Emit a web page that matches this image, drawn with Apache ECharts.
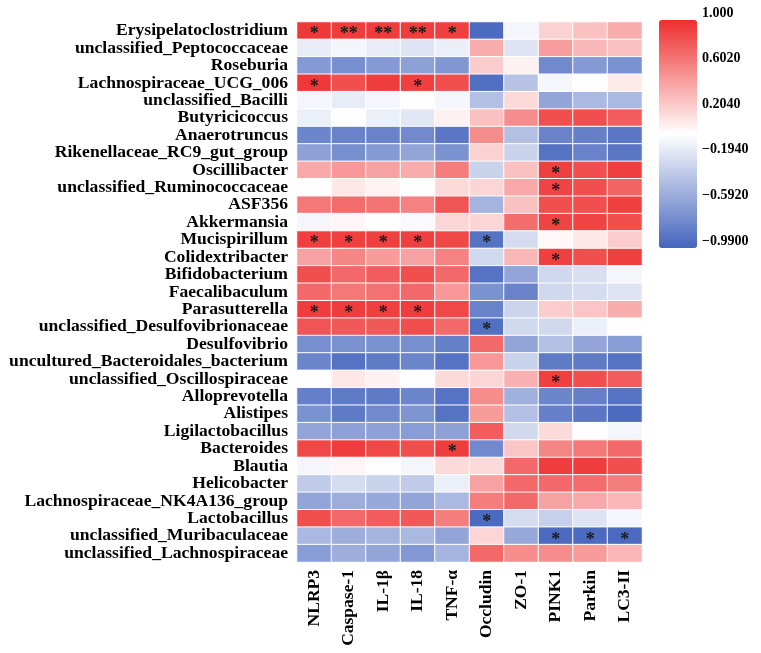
<!DOCTYPE html>
<html>
<head>
<meta charset="utf-8">
<script src="https://cdn.jsdelivr.net/npm/echarts@6/dist/echarts.min.js"></script>
<style>html,body{margin:0;padding:0;background:#fff;}#c{width:761px;height:653px;}</style>
</head>
<body>
<div id="c"></div>
<script>
const rows = [
  "Erysipelatoclostridium","unclassified_Peptococcaceae","Roseburia","Lachnospiraceae_UCG_006",
  "unclassified_Bacilli","Butyricicoccus","Anaerotruncus","Rikenellaceae_RC9_gut_group",
  "Oscillibacter","unclassified_Ruminococcaceae","ASF356","Akkermansia","Mucispirillum",
  "Colidextribacter","Bifidobacterium","Faecalibaculum","Parasutterella",
  "unclassified_Desulfovibrionaceae","Desulfovibrio","uncultured_Bacteroidales_bacterium",
  "unclassified_Oscillospiraceae","Alloprevotella","Alistipes","Ligilactobacillus","Bacteroides",
  "Blautia","Helicobacter","Lachnospiraceae_NK4A136_group","Lactobacillus",
  "unclassified_Muribaculaceae","unclassified_Lachnospiraceae"
];
const cols = ["NLRP3","Caspase-1","IL-1β","IL-18","TNF-α","Occludin","ZO-1","PINK1","Parkin","LC3-II"];

// correlation values, one array per row (columns in order of cols)
const corr = [
  [ 0.95, 0.93, 0.94, 0.93, 0.92, -0.95, -0.05, 0.22, 0.30, 0.40],
  [-0.12,-0.05,-0.12,-0.17,-0.10,  0.40, -0.17, 0.47, 0.35, 0.30],
  [-0.65,-0.72,-0.65,-0.60,-0.67,  0.25,  0.07,-0.75,-0.65,-0.70],
  [ 0.95, 0.85, 0.93, 0.92, 0.85, -0.92, -0.38,-0.05, 0.00, 0.10],
  [-0.05,-0.12,-0.05, 0.00,-0.05, -0.40,  0.18,-0.58,-0.45,-0.45],
  [-0.10, 0.00,-0.10,-0.15, 0.07,  0.30,  0.55, 0.85, 0.85, 0.78],
  [-0.78,-0.80,-0.80,-0.75,-0.88,  0.55, -0.40,-0.80,-0.82,-0.88],
  [-0.60,-0.72,-0.65,-0.58,-0.70,  0.22, -0.28,-0.90,-0.80,-0.88],
  [ 0.42, 0.50, 0.45, 0.40, 0.62, -0.28,  0.30, 0.92, 0.85, 0.92],
  [ 0.00, 0.12, 0.06, 0.00, 0.18,  0.20,  0.42, 0.90, 0.85, 0.75],
  [ 0.65, 0.70, 0.67, 0.60, 0.82, -0.48,  0.30, 0.85, 0.85, 0.92],
  [-0.05, 0.05, 0.00,-0.03, 0.20,  0.20,  0.70, 0.90, 0.90, 0.85],
  [ 0.92, 0.92, 0.92, 0.92, 0.88, -0.90, -0.22, 0.04, 0.12, 0.25],
  [ 0.45, 0.58, 0.48, 0.45, 0.60, -0.24,  0.35, 0.92, 0.85, 0.92],
  [ 0.85, 0.72, 0.78, 0.85, 0.72, -0.90, -0.58,-0.25,-0.20,-0.05],
  [ 0.72, 0.65, 0.68, 0.72, 0.50, -0.70, -0.80,-0.25,-0.22,-0.17],
  [ 0.93, 0.93, 0.92, 0.93, 0.88, -0.80, -0.27, 0.25, 0.28, 0.40],
  [ 0.82, 0.80, 0.80, 0.85, 0.72, -0.92, -0.24,-0.24,-0.10, 0.00],
  [-0.72,-0.70,-0.70,-0.72,-0.82,  0.72, -0.58,-0.40,-0.58,-0.63],
  [-0.78,-0.90,-0.85,-0.78,-0.90,  0.50, -0.28,-0.85,-0.85,-0.90],
  [ 0.00, 0.12, 0.07, 0.00, 0.18,  0.20,  0.38, 0.92, 0.85, 0.78],
  [-0.82,-0.85,-0.85,-0.78,-0.90,  0.55, -0.50,-0.78,-0.82,-0.90],
  [-0.70,-0.85,-0.75,-0.68,-0.90,  0.48, -0.40,-0.82,-0.88,-0.95],
  [-0.58,-0.60,-0.60,-0.63,-0.60,  0.78, -0.24, 0.18, 0.00,-0.05],
  [ 0.88, 0.93, 0.88, 0.85, 0.93, -0.75,  0.28, 0.58, 0.65, 0.72],
  [-0.05, 0.05, 0.00,-0.05, 0.18,  0.18,  0.72, 0.93, 0.93, 0.85],
  [-0.33,-0.22,-0.28,-0.33,-0.10,  0.45,  0.72, 0.72, 0.70, 0.62],
  [-0.58,-0.52,-0.55,-0.58,-0.45,  0.62,  0.72, 0.45, 0.42, 0.35],
  [ 0.85, 0.72, 0.78, 0.80, 0.62, -0.95, -0.22,-0.30,-0.17,-0.05],
  [-0.45,-0.52,-0.47,-0.45,-0.58,  0.20, -0.55,-0.95,-0.95,-0.95],
  [-0.63,-0.52,-0.58,-0.66,-0.47,  0.72,  0.55, 0.55, 0.48, 0.35]
];

// significance marks, same layout as corr
const sig = [
  ["*","**","**","**","*","","","","",""],
  ["","","","","","","","","",""],
  ["","","","","","","","","",""],
  ["*","","","*","","","","","",""],
  ["","","","","","","","","",""],
  ["","","","","","","","","",""],
  ["","","","","","","","","",""],
  ["","","","","","","","","",""],
  ["","","","","","","","*","",""],
  ["","","","","","","","*","",""],
  ["","","","","","","","","",""],
  ["","","","","","","","*","",""],
  ["*","*","*","*","","*","","","",""],
  ["","","","","","","","*","",""],
  ["","","","","","","","","",""],
  ["","","","","","","","","",""],
  ["*","*","*","*","","","","","",""],
  ["","","","","","*","","","",""],
  ["","","","","","","","","",""],
  ["","","","","","","","","",""],
  ["","","","","","","","*","",""],
  ["","","","","","","","","",""],
  ["","","","","","","","","",""],
  ["","","","","","","","","",""],
  ["","","","","*","","","","",""],
  ["","","","","","","","","",""],
  ["","","","","","","","","",""],
  ["","","","","","","","","",""],
  ["","","","","","*","","","",""],
  ["","","","","","","","*","*","*"],
  ["","","","","","","","","",""]
];

const cbTicks = [1.0, 0.602, 0.204, -0.194, -0.592, -0.99];
const cbTickLabels = ["1.000", "0.6020", "0.2040", "\u22120.1940", "\u22120.5920", "\u22120.9900"];

const data = [];
corr.forEach((r, i) => r.forEach((v, j) => data.push([j, i, v])));

const serif = "'Liberation Serif', 'Times New Roman', serif";
const chart = echarts.init(document.getElementById('c'), null, {renderer: 'canvas'});
chart.setOption({
  animation: false,
  backgroundColor: '#fff',
  grid: [
    {left: 297, top: 22, width: 345, height: 540, containLabel: false},
    {left: 659, top: 13, width: 38, height: 228, containLabel: false}
  ],
  xAxis: [
    {type: 'category', data: cols, gridIndex: 0, position: 'bottom',
     axisLine: {show: false}, axisTick: {show: false}, splitArea: {show: false},
     axisLabel: {rotate: 90, margin: 8, fontFamily: serif, fontWeight: 'bold', fontSize: 17.5, color: '#000', interval: 0}},
    {type: 'value', gridIndex: 1, show: false, min: 0, max: 1}
  ],
  yAxis: [
    {type: 'category', data: rows, inverse: true, gridIndex: 0,
     axisLine: {show: false}, axisTick: {show: false}, splitArea: {show: false},
     axisLabel: {margin: 9, fontFamily: serif, fontWeight: 'bold', fontSize: 17.6, color: '#000', interval: 0}},
    {type: 'value', gridIndex: 1, min: -0.99, max: 1.0, position: 'right',
     axisLine: {show: false}, axisTick: {show: false}, splitLine: {show: false},
     axisLabel: {show: true, margin: 5, customValues: cbTicks, fontFamily: serif, fontWeight: 'bold', fontSize: 14, color: '#000',
       formatter: function (v) {
         let best = 0;
         cbTicks.forEach((t, k) => { if (Math.abs(t - v) < Math.abs(cbTicks[best] - v)) best = k; });
         return cbTickLabels[best];
       }}}
  ],
  visualMap: {
    type: 'continuous', min: -0.99, max: 1.0, calculable: false, show: true,
    left: 659, top: 20, itemWidth: 38, itemHeight: 228, padding: 0,
    text: null, showLabel: false, seriesIndex: 0,
    inRange: {color: ['#4565BD', '#ffffff', '#EE2E2E']}
  },
  series: [{
    type: 'heatmap', xAxisIndex: 0, yAxisIndex: 0, data: data,
    itemStyle: {borderColor: '#fff', borderWidth: 1},
    emphasis: {disabled: true},
    label: {show: true, fontFamily: serif, fontWeight: 'bold', fontSize: 18, color: '#1a1a1a', offset: [0, 4],
      formatter: p => sig[p.data[1]][p.data[0]]}
  }]
});
</script>
</body>
</html>
